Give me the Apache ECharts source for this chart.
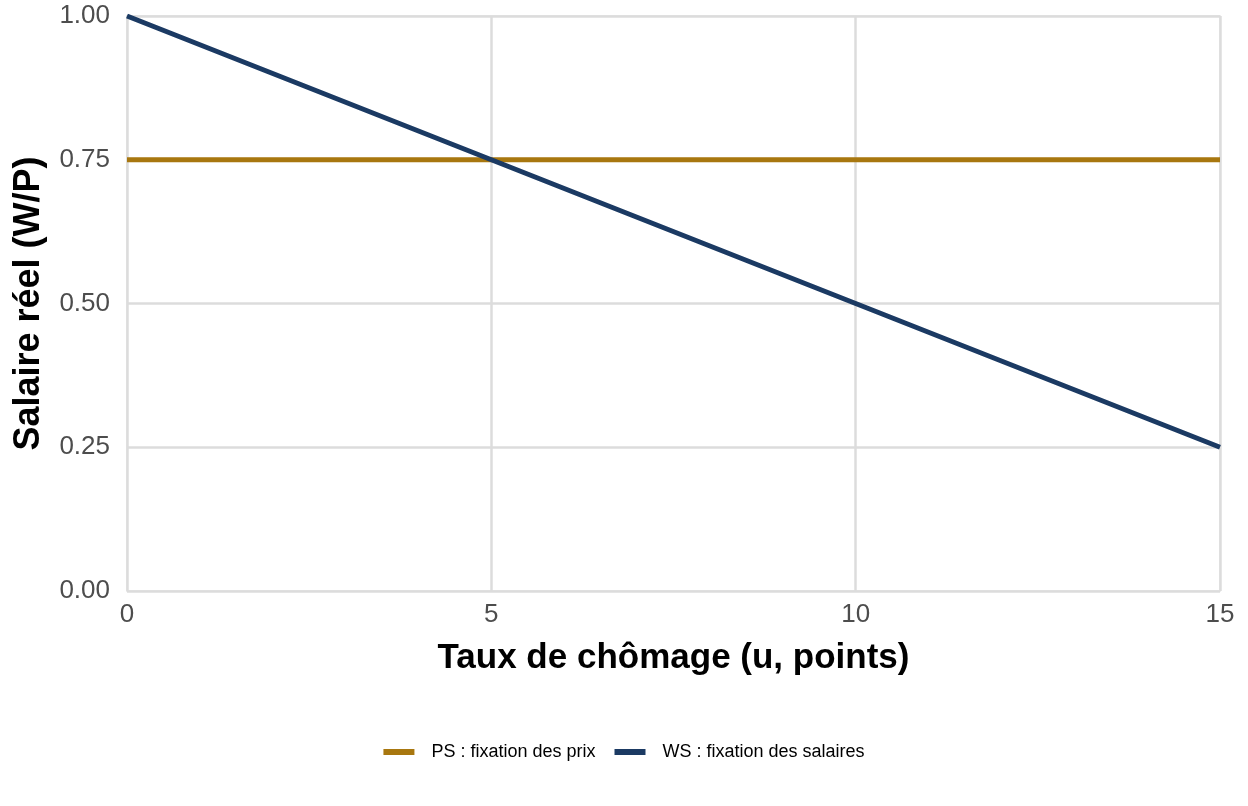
<!DOCTYPE html>
<html><head><meta charset="utf-8">
<script src="https://cdn.jsdelivr.net/npm/echarts@6/dist/echarts.min.js"></script>
<style>html,body{margin:0;padding:0;background:#fff}#c{width:1248px;height:806px}</style>
</head><body><div id="c"></div>
<script>
var uValues = [0, 5, 10, 15];
var psValues = [0.75, 0.75, 0.75, 0.75];
var wsValues = [1.00, 0.75, 0.50, 0.25];
var xTicks = [0, 5, 10, 15];
var yTicks = [0, 0.25, 0.5, 0.75, 1.0];
var seriesNames = ['PS : fixation des prix', 'WS : fixation des salaires'];
var colors = ['#A8770F', '#1B3A63'];

var chart = echarts.init(document.getElementById('c'));
function pairs(xs, ys){ return xs.map(function(x,i){return [x, ys[i]];}); }
chart.setOption({
  animation: false,
  grid: {left: 127, right: 28, top: 16, bottom: 215, show: true, borderColor: '#e0e0e0', borderWidth: 1.5,
         containLabel: false, outerBoundsMode: 'none'},
  xAxis: {
    type: 'value', min: 0, max: 15, interval: 5,
    name: 'Taux de chômage (u, points)', nameLocation: 'middle', nameGap: 50,
    nameTextStyle: {fontFamily: 'Liberation Sans, Arial', fontSize: 35, fontWeight: 'bold', color: '#000'},
    axisLine: {show: false}, axisTick: {show: false},
    axisLabel: {fontFamily: 'Liberation Sans, Arial', fontSize: 26, color: '#4d4d4d', margin: 11},
    splitLine: {show: true, lineStyle: {color: '#dcdcdc', width: 2.5}}
  },
  yAxis: {
    type: 'value', min: 0, max: 1, interval: 0.25,
    name: 'Salaire réel (W/P)', nameLocation: 'middle', nameGap: 80,
    nameTextStyle: {fontFamily: 'Liberation Sans, Arial', fontSize: 36, fontWeight: 'bold', color: '#000'},
    axisLine: {show: false}, axisTick: {show: false},
    axisLabel: {fontFamily: 'Liberation Sans, Arial', fontSize: 26, color: '#4d4d4d', margin: 17,
      formatter: function(v){ return v.toFixed(2); }},
    splitLine: {show: true, lineStyle: {color: '#dcdcdc', width: 2.5}}
  },
  legend: {
    top: 738, left: 'center', itemWidth: 31, itemHeight: 6, itemGap: 19,
    icon: 'rect',
    textStyle: {fontFamily: 'Liberation Sans, Arial', fontSize: 18, color: '#000', padding: [0,0,0,12]},
    data: seriesNames
  },
  series: [
    {name: seriesNames[0], type: 'line', data: pairs(uValues, psValues), symbol: 'none',
     lineStyle: {color: colors[0], width: 5}, itemStyle: {color: colors[0]}},
    {name: seriesNames[1], type: 'line', data: pairs(uValues, wsValues), symbol: 'none',
     lineStyle: {color: colors[1], width: 5}, itemStyle: {color: colors[1]}}
  ]
});
</script></body></html>
